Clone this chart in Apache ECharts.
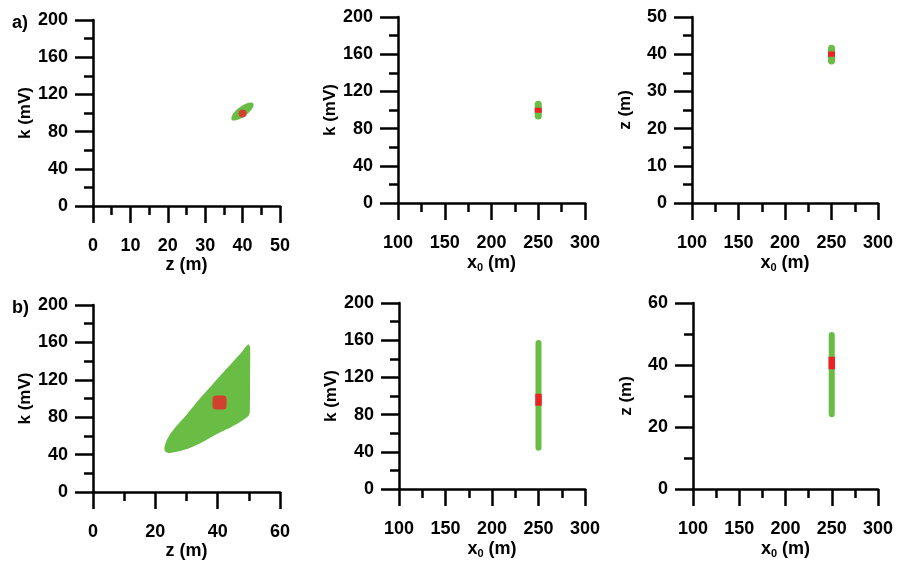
<!DOCTYPE html>
<html><head><meta charset="utf-8">
<script src="https://cdn.jsdelivr.net/npm/echarts@6/dist/echarts.min.js"></script>
<style>html,body{margin:0;padding:0;background:#fff}#c{width:898px;height:565px}</style>
</head><body><div id="c"></div><script>
// ---- data ----
// Panel a1: solution cloud boundary (z, k) and true model
const a1CloudZ = [42.84, 42.86, 42.11, 40.78, 39.24, 37.90, 37.10, 37.08, 37.83, 39.16, 40.71, 42.05];
const a1CloudK = [110.4, 107.1, 102.3, 97.3, 93.5, 91.9, 92.8, 96.1, 101.0, 105.9, 109.7, 111.4];
const a1True = [40, 99.5];
// Panel b1: solution cloud boundary (z, k) and true model
const b1CloudZ = [23.0, 23.6, 24.8, 26.9, 30.1, 34.3, 38.6, 42.9, 47.2, 49.8, 50.4, 50.4, 50.3, 49.8, 47.2, 42.9, 38.6, 34.3, 30.1, 26.9, 24.2, 23.0];
const b1CloudK = [49, 55, 62, 71, 83, 100, 116, 132, 147.5, 158, 155, 120, 85, 81, 75, 67, 60, 52, 46, 43, 41.5, 44];
const b1True = [40.6, 95.8];
// Vertical ranges at x0 = 250 m
const x0Value = 250;
const a2GreenK = [93.5, 106.2];
const a2RedK = [97.1, 102.5];
const a3GreenZ = [38.2, 41.6];
const a3RedZ = [39.3, 40.7];
const b2GreenK = [44.4, 157];
const b2RedK = [89.5, 102.5];
const b3GreenZ = [24.1, 49.7];
const b3RedZ = [38.6, 42.7];
// axis ranges / ticks
const kTicks = {min: 0, max: 200, interval: 40};
const zTicksA1 = {min: 0, max: 50, interval: 10};
const zTicksB1 = {min: 0, max: 60, interval: 20};
const x0Ticks = {min: 100, max: 300, interval: 50};
const zTicksA3 = {min: 0, max: 50, interval: 10};
const zTicksB3 = {min: 0, max: 60, interval: 20};

const GREEN = '#69bd45';
const RED = '#ec2227';
const FONT = "'Liberation Sans', Arial, sans-serif";
const lbl = {color: '#000', fontSize: 18, fontWeight: 'bold', fontFamily: FONT};
const ylbl = {color: '#000', fontSize: 17, fontWeight: 'bold', fontFamily: FONT};
const line = {color: '#000', width: 2.5};

const grids = [
  {left: 93, top: 20, width: 187, height: 186},
  {left: 398, top: 17, width: 187, height: 186},
  {left: 692, top: 17, width: 186, height: 186},
  {left: 93, top: 305, width: 187, height: 187},
  {left: 399, top: 303, width: 186, height: 186},
  {left: 693, top: 303, width: 185, height: 186}
];

function xAx(gi, t, name) {
  return {type: 'value', gridIndex: gi, min: t.min, max: t.max, interval: t.interval,
    name: name, nameLocation: 'middle', nameGap: 50,
    nameTextStyle: Object.assign({}, lbl, {rich: {
      s: {color: '#000', fontSize: 11, fontWeight: 'bold', fontFamily: FONT, padding: [9, 0, 0, 0]}
    }}),
    axisLine: {show: true, onZero: false, lineStyle: line},
    axisTick: {show: true, length: 17, lineStyle: line},
    minorTick: {show: true, splitNumber: 2, length: 9, lineStyle: line},
    axisLabel: Object.assign({margin: 31}, lbl),
    splitLine: {show: false}, minorSplitLine: {show: false}};
}
function yAx(gi, t, name) {
  return {type: 'value', gridIndex: gi, min: t.min, max: t.max, interval: t.interval,
    name: name, nameLocation: 'middle', nameGap: 58, nameRotate: 90,
    nameTextStyle: ylbl,
    axisLine: {show: true, onZero: false, lineStyle: line},
    axisTick: {show: true, length: 18, lineStyle: line},
    minorTick: {show: true, splitNumber: 2, length: 9, lineStyle: line},
    axisLabel: Object.assign({margin: 25}, lbl),
    splitLine: {show: false}, minorSplitLine: {show: false}};
}

function cloud(gi, zs, ks, smooth) {
  return {type: 'custom', xAxisIndex: gi, yAxisIndex: gi, coordinateSystem: 'cartesian2d',
    data: [[zs[0], ks[0]]], silent: true,
    renderItem: function (params, api) {
      const pts = zs.map(function (z, i) { return api.coord([z, ks[i]]); });
      return {type: 'polygon', shape: {points: pts, smooth: smooth}, style: {fill: GREEN}};
    }};
}
function bar(gi, range, color, width, cap) {
  return {type: 'line', xAxisIndex: gi, yAxisIndex: gi, symbol: 'none', silent: true,
    data: [[x0Value, range[0]], [x0Value, range[1]]],
    lineStyle: {color: color, width: width, cap: cap}};
}

const option = {
  animation: false,
  backgroundColor: '#fff',
  grid: grids,
  xAxis: [xAx(0, zTicksA1, 'z (m)'), xAx(1, x0Ticks, 'x{s|0} (m)'), xAx(2, x0Ticks, 'x{s|0} (m)'),
          xAx(3, zTicksB1, 'z (m)'), xAx(4, x0Ticks, 'x{s|0} (m)'), xAx(5, x0Ticks, 'x{s|0} (m)')],
  yAxis: [yAx(0, kTicks, 'k (mV)'), yAx(1, kTicks, 'k (mV)'), yAx(2, zTicksA3, 'z (m)'),
          yAx(3, kTicks, 'k (mV)'), yAx(4, kTicks, 'k (mV)'), yAx(5, zTicksB3, 'z (m)')],
  graphic: [
    {type: 'text', left: 12, top: 14, style: {text: 'a)', font: 'bold 18px ' + FONT, fill: '#000'}},
    {type: 'text', left: 12, top: 299, style: {text: 'b)', font: 'bold 18px ' + FONT, fill: '#000'}}
  ],
  series: [
    cloud(0, a1CloudZ, a1CloudK, 0.4),
    {type: 'scatter', xAxisIndex: 0, yAxisIndex: 0, data: [a1True], symbol: 'circle', symbolSize: 8,
     itemStyle: {color: RED}, silent: true},
    bar(1, a2GreenK, GREEN, 7, 'round'),
    bar(1, a2RedK, RED, 7, 'butt'),
    bar(2, a3GreenZ, GREEN, 7, 'round'),
    bar(2, a3RedZ, RED, 7, 'butt'),
    cloud(3, b1CloudZ, b1CloudK, 0.2),
    {type: 'scatter', xAxisIndex: 3, yAxisIndex: 3, data: [b1True], symbol: 'roundRect', symbolSize: 14,
     itemStyle: {color: RED}, silent: true},
    bar(4, b2GreenK, GREEN, 6, 'round'),
    bar(4, b2RedK, RED, 6.5, 'butt'),
    bar(5, b3GreenZ, GREEN, 6, 'round'),
    bar(5, b3RedZ, RED, 6.5, 'butt')
  ]
};
const chart = echarts.init(document.getElementById('c'), null, {renderer: 'canvas'});
chart.setOption(option);
</script></body></html>
